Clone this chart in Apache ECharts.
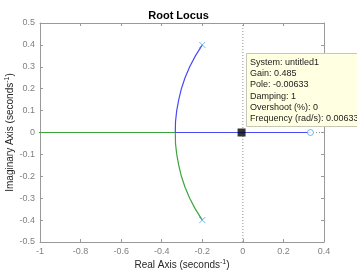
<!DOCTYPE html>
<html><head><meta charset="utf-8">
<script src="https://cdn.jsdelivr.net/npm/echarts@6/dist/echarts.min.js"></script>
<style>html,body{margin:0;padding:0;background:#fff}#c{width:357px;height:271px}</style>
</head><body><div id="c"></div>
<script>
// ---- data ----
const title = 'Root Locus';
const xName = 'Real Axis (seconds';
const yName = 'Imaginary Axis (seconds';
const xRange = [-1, 0.4];
const yRange = [-0.5, 0.5];
// upper branch (blue): from pole at -0.2+0.4j to breakaway, then along real axis to zero
const blueBranch = [[-0.2,0.4],[-0.234,0.35],[-0.262,0.3],[-0.285,0.25],[-0.303,0.2],[-0.316,0.15],[-0.326,0.1],[-0.332,0.05],[-0.333,0],[0.333,0]];
// lower branch (green): from pole at -0.2-0.4j to breakaway, then left along real axis
const greenBranch = [[-0.2,-0.4],[-0.234,-0.35],[-0.262,-0.3],[-0.285,-0.25],[-0.303,-0.2],[-0.316,-0.15],[-0.326,-0.1],[-0.332,-0.05],[-0.333,0],[-1.2,0]];
const poles = [[-0.2,0.4],[-0.2,-0.4]];
const zeros = [[0.333,0]];
const selectedPole = [[-0.00633,0]];
const tipLines = ['System: untitled1','Gain: 0.485','Pole: -0.00633','Damping: 1','Overshoot (%): 0','Frequency (rad/s): 0.00633'];

const chart = echarts.init(document.getElementById('c'));
const F = 'Liberation Sans, Arial, sans-serif';
const gray = '#999999';
const lab = '#808080';
const rich = {a:{fontSize:10,color:'#262626',fontFamily:F}, s:{fontSize:7,color:'#262626',fontFamily:F,padding:[0,0,6,0]}};
function ax(extra){return Object.assign({type:'value',nameMoveOverlap:false,axisLine:{show:true,onZero:false,lineStyle:{color:gray,width:1}},axisTick:{show:true,inside:true,length:3,lineStyle:{color:gray}},splitLine:{show:false}},extra);}
const dotted = {type:'line',showSymbol:false,silent:true,z:1,lineStyle:{color:'#909090',type:[1,2],width:1}};
chart.setOption({
  animation:false,
  title:{text:title,left:'center',top:5,textStyle:{fontFamily:F,fontSize:11,fontWeight:'bold',color:'#000'}},
  grid:{left:40,right:33,top:23,bottom:29,containLabel:false,outerBoundsMode:'none'},
  xAxis:[
    ax({min:xRange[0],max:xRange[1],interval:0.2,position:'bottom',
      axisLabel:{color:lab,fontSize:9,fontFamily:F,margin:5,formatter:v=>String(+v.toFixed(2))},
      name:'{a|'+xName+'}{s|-1}{a|)}',nameLocation:'middle',nameGap:17,nameTextStyle:{rich:rich}}),
    ax({min:xRange[0],max:xRange[1],interval:0.2,position:'top',axisLabel:{show:false}})
  ],
  yAxis:[
    ax({min:yRange[0],max:yRange[1],interval:0.1,position:'left',
      axisLabel:{color:lab,fontSize:9,fontFamily:F,margin:5,formatter:v=>String(+v.toFixed(2))},
      name:'{a|'+yName+'}{s|-1}{a|)}',nameLocation:'middle',nameGap:23,nameRotate:90,nameTextStyle:{rich:rich}}),
    ax({min:yRange[0],max:yRange[1],interval:0.1,position:'right',axisLabel:{show:false}})
  ],
  series:[
    Object.assign({data:[[0,yRange[0]],[0,yRange[1]]]},dotted),
    Object.assign({data:[[xRange[0],0],[xRange[1],0]]},dotted),
    {type:'line',data:greenBranch,showSymbol:false,lineStyle:{color:'#3aa53a',width:1.2},clip:true,z:3},
    {type:'line',data:blueBranch,showSymbol:false,lineStyle:{color:'#4a4af5',width:1.2},clip:true,z:3},
    {type:'scatter',data:poles,symbol:'path://M0,0L10,10M10,0L0,10',symbolSize:6,
      itemStyle:{color:'none',borderColor:'#4da6e6',borderWidth:1},z:4},
    {type:'scatter',data:zeros,symbol:'circle',symbolSize:6,
      itemStyle:{color:'#fff',borderColor:'#4da6e6',borderWidth:1},z:4},
    {type:'scatter',data:selectedPole,symbol:'rect',symbolSize:8,itemStyle:{color:'#000'},z:5}
  ],
  graphic:[
    {type:'rect',left:246,top:53,shape:{width:130,height:73},style:{fill:'#ffffe1',stroke:'#c8c8b8',lineWidth:1},z:10},
    {type:'text',left:250,top:57,style:{text:tipLines.join('\n'),font:'9px '+F,fill:'#222',lineHeight:11.2},z:11}
  ]
});
</script></body></html>
